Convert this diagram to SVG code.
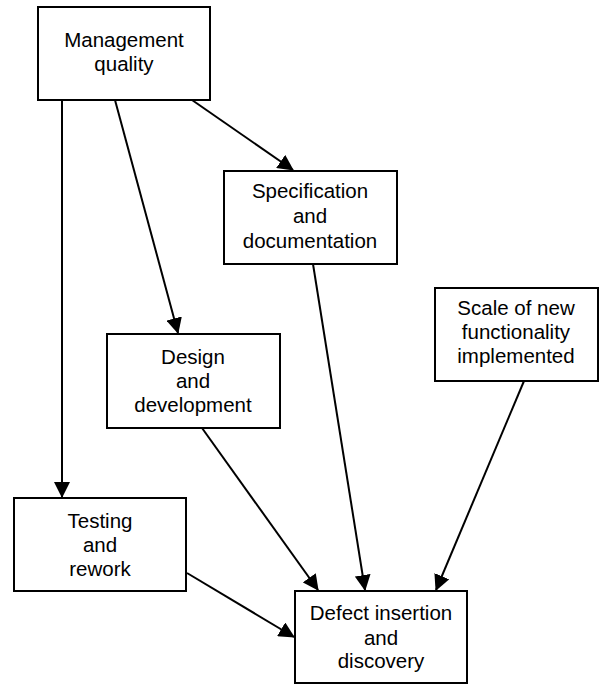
<svg xmlns="http://www.w3.org/2000/svg" width="605" height="685" viewBox="0 0 605 685">
<style>
.box{fill:#fff;stroke:#000;stroke-width:2}
.t{font-family:"Liberation Sans",Arial,sans-serif;font-size:20.5px;fill:#000;text-anchor:middle}
.c{stroke:#000;stroke-width:2;fill:none;marker-end:url(#ah)}
</style>
<defs>
<marker id="ah" markerUnits="userSpaceOnUse" markerWidth="16" markerHeight="16" viewBox="0 0 16 16" refX="15" refY="8" orient="auto">
<path d="M0,0 L16,8 L0,16 Z" fill="#000"/>
</marker>
</defs>
<rect width="605" height="685" fill="#fff"/>
<g id="connectors">
<line class="c" x1="62" y1="100" x2="62" y2="497"/>
<line class="c" x1="115" y1="100" x2="178" y2="333"/>
<line class="c" x1="192" y1="100" x2="293" y2="170"/>
<line class="c" x1="202" y1="428" x2="318" y2="590"/>
<line class="c" x1="313" y1="264" x2="365" y2="590"/>
<line class="c" x1="524" y1="381" x2="436" y2="590"/>
<line class="c" x1="187" y1="573" x2="294" y2="637"/>
</g>
<g id="management">
<rect class="box" x="38" y="7" width="172" height="93"/>
<text class="t" x="124" y="47">Management</text>
<text class="t" x="124" y="71">quality</text>
</g>
<g id="specification">
<rect class="box" x="224" y="171" width="173" height="93"/>
<text class="t" x="310" y="198">Specification</text>
<text class="t" x="310" y="223">and</text>
<text class="t" x="310" y="248">documentation</text>
</g>
<g id="scale">
<rect class="box" x="435" y="288" width="163" height="93"/>
<text class="t" x="516" y="315">Scale of new</text>
<text class="t" x="516" y="339">functionality</text>
<text class="t" x="516" y="363">implemented</text>
</g>
<g id="design">
<rect class="box" x="107" y="334" width="173" height="94"/>
<text class="t" x="193" y="364">Design</text>
<text class="t" x="193" y="388">and</text>
<text class="t" x="193" y="412">development</text>
</g>
<g id="testing">
<rect class="box" x="14" y="498" width="172" height="93"/>
<text class="t" x="100" y="528">Testing</text>
<text class="t" x="100" y="552">and</text>
<text class="t" x="100" y="576">rework</text>
</g>
<g id="defect">
<rect class="box" x="295" y="591" width="172" height="92"/>
<text class="t" x="381" y="620">Defect insertion</text>
<text class="t" x="381" y="645">and</text>
<text class="t" x="381" y="668">discovery</text>
</g>
</svg>
